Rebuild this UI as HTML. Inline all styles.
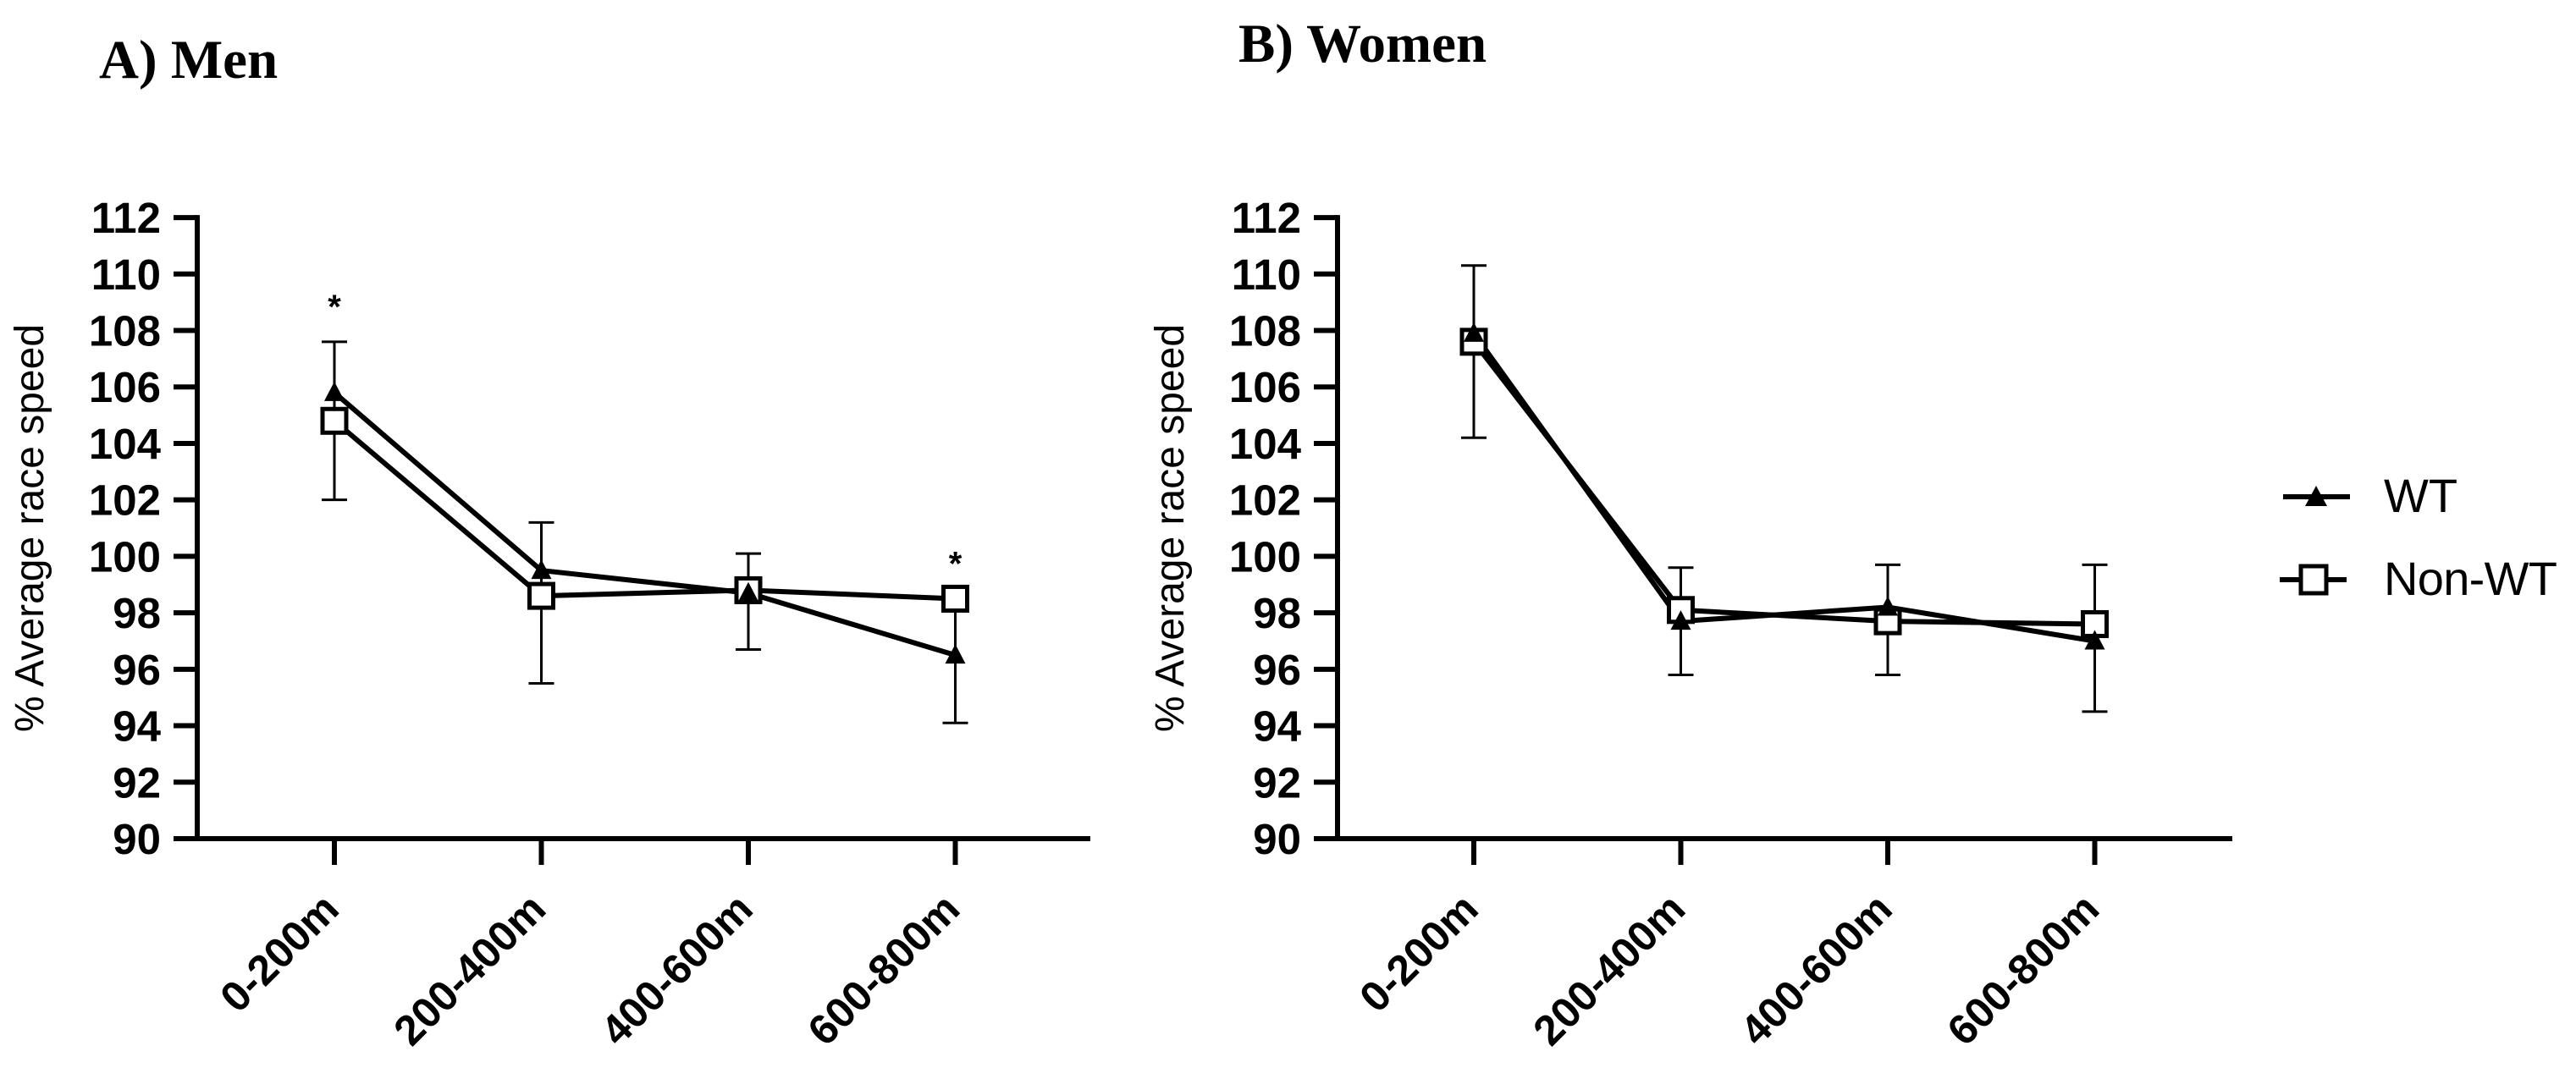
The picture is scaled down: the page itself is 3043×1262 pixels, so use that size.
<!DOCTYPE html>
<html><head><meta charset="utf-8">
<style>
html,body{margin:0;padding:0;background:#fff;}
svg{display:block;}
</style></head>
<body>
<svg id="chart" width="3043" height="1262" viewBox="0 0 3043 1262" xmlns="http://www.w3.org/2000/svg">
<text x="117" y="92" font-family="Liberation Serif, serif" font-weight="bold" font-size="65">A) Men</text>
<text x="1463" y="73" font-family="Liberation Serif, serif" font-weight="bold" font-size="65">B) Women</text>
<g id="panels"></g>
<g>
  <g>
    <line x1="2697" y1="587" x2="2776" y2="587" stroke="#000" stroke-width="6"/>
    <polygon points="2736,574 2749,598 2723,598" fill="#000"/>
    <text x="2816" y="605" font-family="Liberation Sans, sans-serif" font-size="56">WT</text>
  </g>
  <g>
    <line x1="2693" y1="685" x2="2772" y2="685" stroke="#000" stroke-width="6"/>
    <rect x="2718" y="669" width="30" height="32" fill="#fff" stroke="#000" stroke-width="5"/>
    <text x="2816" y="703" font-family="Liberation Sans, sans-serif" font-size="56" textLength="205">Non-WT</text>
  </g>
</g>
</svg>
<script>
const categories = ["0-200m","200-400m","400-600m","600-800m"];
const yTicks = [90,92,94,96,98,100,102,104,106,108,110,112];
const menWT = [105.8, 99.5, 98.7, 96.5];
const menNonWT = [104.8, 98.6, 98.8, 98.5];
const menErrTop = [107.6, 101.2, 100.1, 98.5];
const menErrBottom = [102.0, 95.5, 96.7, 94.1];
const menSig = [true, false, false, true];
const womenWT = [107.9, 97.7, 98.2, 97.0];
const womenNonWT = [107.6, 98.1, 97.7, 97.6];
const womenErrTop = [110.3, 99.6, 99.7, 99.7];
const womenErrBottom = [104.2, 95.8, 95.8, 94.5];
const womenSig = [false, false, false, false];

const NS = "http://www.w3.org/2000/svg";
const root = document.getElementById('panels');
function mk(tag, attrs, parent){
  const e = document.createElementNS(NS, tag);
  for (const k in attrs) e.setAttribute(k, attrs[k]);
  parent.appendChild(e);
  return e;
}
const Y0 = 991, PER = 33.36;
function yScale(v){ return Y0 - (v - 90) * PER; }

function drawPanel(name, axisX, firstCat, axisEnd, wt, non, eTop, eBot, sig){
  const g = mk('g', {}, root);
  
  
  const xScale = i => firstCat + i * 244.5;
  const ya = mk('line', {x1:axisX, y1:yScale(112)-3, x2:axisX, y2:Y0+3, stroke:'#000','stroke-width':6}, g);
  
  
  yTicks.forEach(t => {
    const y = yScale(t);
    const tk = mk('line', {x1:axisX-28, y1:y, x2:axisX, y2:y, stroke:'#000','stroke-width':6}, g);
    
    
    const tl = mk('text', {x:axisX-43, y:y+18, 'text-anchor':'end','font-family':'Liberation Sans, sans-serif','font-weight':'bold','font-size':51}, g);
    tl.textContent = t;
    
    
  });
  const xa = mk('line', {x1:axisX-28, y1:Y0, x2:axisEnd, y2:Y0, stroke:'#000','stroke-width':6}, g);
  
  
  categories.forEach((c,i) => {
    const x = xScale(i);
    const tk = mk('line', {x1:x, y1:Y0, x2:x, y2:Y0+31, stroke:'#000','stroke-width':6}, g);
    
    
    const tl = mk('text', {x:0, y:0, 'text-anchor':'end','font-family':'Liberation Sans, sans-serif','font-weight':'bold','font-size':50, transform:`translate(${x+8},${Y0+86}) rotate(-45)`}, g);
    tl.textContent = c;
    
    
  });
  const yl = mk('text', {x:0, y:0, 'text-anchor':'middle','font-family':'Liberation Sans, sans-serif','font-size':48, transform:`translate(${axisX-182},${yScale(101)}) rotate(-90)`}, g);
  yl.textContent = '% Average race speed';
  
  
  categories.forEach((c,i) => {
    const x = xScale(i);
    const eb = mk('g', {}, g);
    
    
    mk('line', {x1:x, y1:yScale(eTop[i]), x2:x, y2:yScale(eBot[i]), stroke:'#000','stroke-width':3}, eb);
    mk('line', {x1:x-15, y1:yScale(eTop[i]), x2:x+15, y2:yScale(eTop[i]), stroke:'#000','stroke-width':3}, eb);
    mk('line', {x1:x-15, y1:yScale(eBot[i]), x2:x+15, y2:yScale(eBot[i]), stroke:'#000','stroke-width':3}, eb);
    if (sig[i]) {
      const s = mk('text', {x:x, y:yScale(eTop[i])-28, 'text-anchor':'middle','font-family':'Liberation Sans, sans-serif','font-weight':'bold','font-size':40}, g);
      s.textContent = '*';
      
      
    }
  });
  const lw = mk('polyline', {points: wt.map((v,i)=>`${xScale(i)},${yScale(v)}`).join(' '), fill:'none', stroke:'#000','stroke-width':6,'stroke-linejoin':'round'}, g);
  
  
  const ln = mk('polyline', {points: non.map((v,i)=>`${xScale(i)},${yScale(v)}`).join(' '), fill:'none', stroke:'#000','stroke-width':6,'stroke-linejoin':'round'}, g);
  
  
  non.forEach((v,i) => {
    const x = xScale(i), y = yScale(v);
    const r = mk('rect', {x:x-14, y:y-14, width:28, height:28, fill:'#fff', stroke:'#000','stroke-width':5}, g);
    
    
  });
  wt.forEach((v,i) => {
    const x = xScale(i), y = yScale(v);
    const p = mk('polygon', {points:`${x},${y-13} ${x+12},${y+10} ${x-12},${y+10}`, fill:'#000'}, g);
    
    
  });
}
drawPanel('men', 233, 395, 1288, menWT, menNonWT, menErrTop, menErrBottom, menSig);
drawPanel('women', 1580, 1741, 2637, womenWT, womenNonWT, womenErrTop, womenErrBottom, womenSig);
</script>
</body></html>
